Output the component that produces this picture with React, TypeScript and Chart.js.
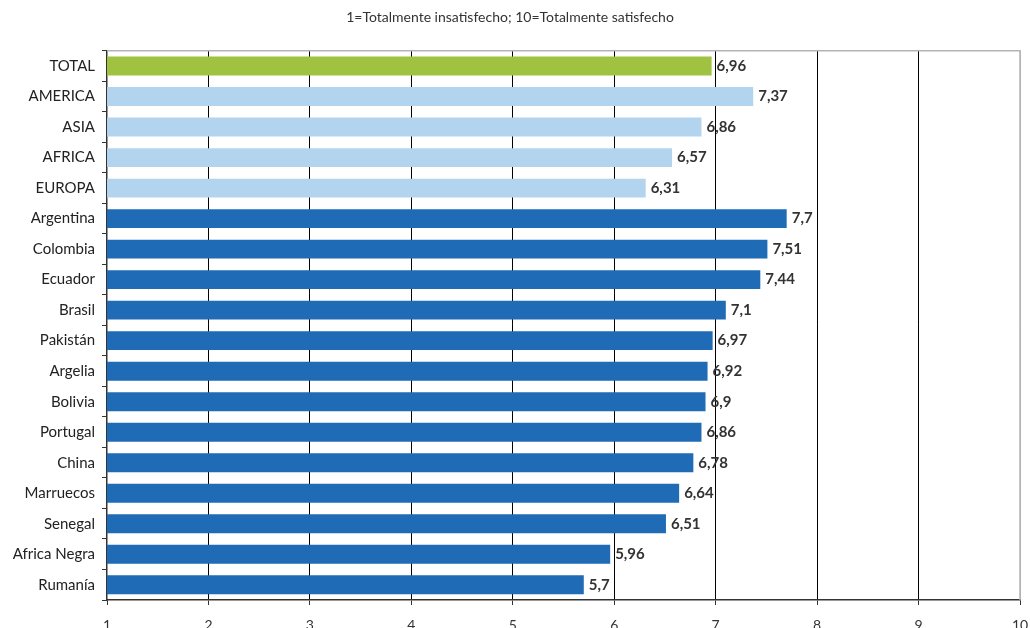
import React, { useEffect, useRef } from "react";
import { Chart, registerables } from "chart.js";

Chart.register(...registerables);

const categories = [
  "TOTAL", "AMERICA", "ASIA", "AFRICA", "EUROPA", "Argentina", "Colombia", "Ecuador",
  "Brasil", "Pakistán", "Argelia", "Bolivia", "Portugal", "China", "Marruecos",
  "Senegal", "Africa Negra", "Rumanía",
];
const values = [
  6.96, 7.37, 6.86, 6.57, 6.31, 7.7, 7.51, 7.44, 7.1, 6.97, 6.92, 6.9, 6.86, 6.78,
  6.64, 6.51, 5.96, 5.7,
];
const groups = [
  "total", "region", "region", "region", "region", "country", "country", "country",
  "country", "country", "country", "country", "country", "country", "country",
  "country", "country", "country",
];
const groupColors: Record<string, string> = {
  total: "#9FC340",
  region: "#B3D4EF",
  country: "#1F6BB6",
};
const titleText = "1=Totalmente insatisfecho; 10=Totalmente satisfecho";
const FONT = "Lato, 'Open Sans', sans-serif";

const valueLabels = {
  id: "valueLabels",
  afterDatasetsDraw(chart: any) {
    const ctx = chart.ctx;
    const meta = chart.getDatasetMeta(0);
    ctx.save();
    ctx.font = `bold 15px ${FONT}`;
    ctx.fillStyle = "#333333";
    ctx.textAlign = "left";
    ctx.textBaseline = "middle";
    meta.data.forEach((bar: any, i: number) => {
      const txt = String(values[i]).replace(".", ",");
      ctx.fillText(txt, bar.x + 5, bar.y);
    });
    ctx.restore();
  },
};

const frame = {
  id: "frame",
  afterDraw(chart: any) {
    const { ctx, chartArea } = chart;
    ctx.save();
    ctx.strokeStyle = "#b4b4b4";
    ctx.lineWidth = 1.5;
    ctx.beginPath();
    ctx.moveTo(chartArea.left, chartArea.top);
    ctx.lineTo(chartArea.right, chartArea.top);
    ctx.lineTo(chartArea.right, chartArea.bottom);
    ctx.stroke();
    ctx.restore();
  },
};

export default function App() {
  const ref = useRef<HTMLCanvasElement>(null);
  useEffect(() => {
    if (!ref.current) return;
    const chart = new Chart(ref.current, {
      type: "bar",
      data: {
        labels: categories,
        datasets: [
          {
            data: values,
            backgroundColor: groups.map((g) => groupColors[g]),
            barPercentage: 1,
            categoryPercentage: 0.62,
          },
        ],
      },
      options: {
        indexAxis: "y",
        animation: false,
        responsive: false,
        maintainAspectRatio: false,
        layout: { padding: { left: 0, right: 10, top: 0, bottom: 0 } },
        plugins: {
          legend: { display: false },
          tooltip: { enabled: false },
          title: {
            display: true,
            text: titleText,
            color: "#333333",
            font: { family: FONT, size: 14, weight: "normal" },
            padding: { top: 9, bottom: 25 },
          },
        },
        scales: {
          x: {
            type: "linear",
            min: 1,
            max: 10,
            ticks: {
              stepSize: 1,
              color: "#333333",
              font: { family: FONT, size: 14 },
              padding: 12,
            },
            grid: {
              color: (c: any) =>
                c.tick && c.tick.value === 10 ? "#b4b4b4" : c.tick && c.tick.value === 1 ? "rgba(0,0,0,0)" : "#000000",
              tickColor: "#333333",
              tickLength: 5,
              lineWidth: 1,
            },
            border: { color: "#333333", width: 1.5 },
            afterFit: (s: any) => {
              s.height = 40;
              s.paddingLeft = 0;
              s.paddingRight = 0;
            },
          },
          y: {
            ticks: {
              color: "#222222",
              font: { family: FONT, size: 15 },
              padding: 7,
              autoSkip: false,
            },
            grid: {
              offset: true,
              drawOnChartArea: false,
              tickLength: 5,
              tickColor: "#333333",
            },
            border: { color: "#333333", width: 1.5 },
            afterFit: (s: any) => {
              s.width = 107;
              s.paddingTop = 0;
              s.paddingBottom = 0;
            },
          },
        },
      },
      plugins: [valueLabels, frame],
    });
    return () => chart.destroy();
  }, []);

  return (
    <div style={{ position: "fixed", left: 0, top: 0, width: 1030, height: 640, overflow: "hidden", background: "#fff" }}>
      <canvas ref={ref} width={1030} height={640} style={{ width: 1030, height: 640 }} />
    </div>
  );
}
